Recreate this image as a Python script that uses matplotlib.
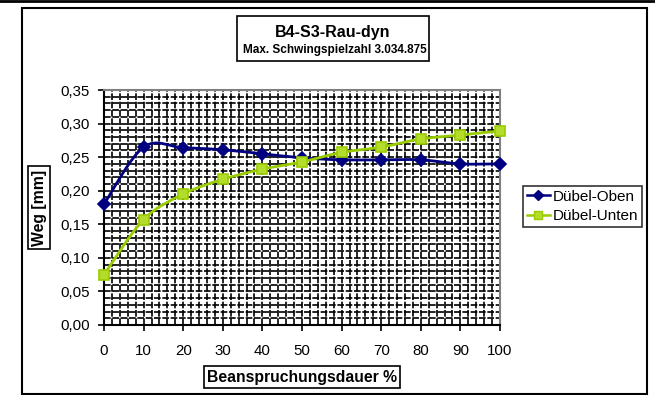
import numpy as np
import matplotlib
matplotlib.use("Agg")
import matplotlib.pyplot as plt
from matplotlib.path import Path
from matplotlib.patches import PathPatch, Rectangle
from matplotlib.lines import Line2D

plt.rcParams['font.family'] = ['Liberation Sans', 'DejaVu Sans']

# data
dauer = [0, 10, 20, 30, 40, 50, 60, 70, 80, 90, 100]
oben = [0.180, 0.265, 0.264, 0.261, 0.255, 0.249, 0.246, 0.246, 0.246, 0.240, 0.240]
unten = [0.075, 0.157, 0.195, 0.217, 0.232, 0.243, 0.257, 0.265, 0.277, 0.283, 0.289]
series_names = ['Dübel-Oben', 'Dübel-Unten']
y_ticks = [0.00, 0.05, 0.10, 0.15, 0.20, 0.25, 0.30, 0.35]
x_ticks = [0, 10, 20, 30, 40, 50, 60, 70, 80, 90, 100]

blue = '#000080'
green = '#99CC00'


def smooth_path(x, y, t=1 / 6):
    # Excel-style smoothed line: cubic bezier segments through the points
    x = np.asarray(x, float)
    y = np.asarray(y, float)
    verts = [(x[0], y[0])]
    codes = [Path.MOVETO]
    n = len(x)
    for i in range(n - 1):
        p0 = (x[max(i - 1, 0)], y[max(i - 1, 0)])
        p1 = (x[i], y[i])
        p2 = (x[i + 1], y[i + 1])
        p3 = (x[min(i + 2, n - 1)], y[min(i + 2, n - 1)])
        c1 = (p1[0] + (p2[0] - p0[0]) * t, p1[1] + (p2[1] - p0[1]) * t)
        c2 = (p2[0] - (p3[0] - p1[0]) * t, p2[1] - (p3[1] - p1[1]) * t)
        verts += [c1, c2, p2]
        codes += [Path.CURVE4] * 3
    return Path(verts, codes)


fig = plt.figure(figsize=(6.55, 3.95), dpi=100)
ax = fig.add_axes([104 / 655, 1 - 325 / 395, 396 / 655, 235 / 395])

ax.set_xlim(0, 100)
ax.set_ylim(0, 0.35)

# dense grid
for v in np.arange(0, 100.01, 2):
    ax.axvline(v, color='black', lw=1.2, ls=(0, (4, 1)), zorder=1)
for v in np.arange(0, 0.3501, 0.01):
    ax.axhline(v, color='black', lw=1.2, ls=(0, (4, 1)), zorder=1)

for vals, col, mk, mfc in [(oben, blue, 'D', blue), (unten, green, 's', '#b4dc2a')]:
    ax.add_patch(PathPatch(smooth_path(dauer, vals), fill=False, edgecolor=col, lw=2, zorder=3))
    ax.plot(dauer, vals, ls='none', marker=mk, ms=6.5, color=col, mfc=mfc, mec=col, mew=1.2,
            zorder=4, clip_on=False)

ax.set_xticks(x_ticks)
ax.set_xticklabels([str(v) for v in x_ticks], fontsize=10.8)
ax.set_yticks(y_ticks)
ax.set_yticklabels([f'{v:.2f}'.replace('.', ',') for v in y_ticks], fontsize=10.8)
ax.tick_params(direction='out', length=4, width=1.2)
ax.tick_params(axis='x', pad=10)
ax.tick_params(axis='y', pad=6)
for s in ['left', 'bottom']:
    ax.spines[s].set_linewidth(1.5)
for s in ['top', 'right']:
    ax.spines[s].set_color('#808080')
    ax.spines[s].set_linewidth(1.5)

box = dict(boxstyle='square,pad=0.2', fc='white', ec='black', lw=1.2)
ax.set_xlabel('Beanspruchungsdauer %', fontsize=11.3, fontweight='bold', bbox=box, labelpad=8)
ax.set_ylabel('Weg [mm]', fontsize=11.3, fontweight='bold', bbox=box, labelpad=10)

# title box
fig.patches.append(Rectangle((237 / 655, 1 - 61 / 395), 192 / 655, 45 / 395, transform=fig.transFigure,
                             fc='white', ec='black', lw=1.2))
fig.text(333 / 655, 1 - 32 / 395, 'B4-S3-Rau-dyn', ha='center', va='center', fontsize=11.5,
         fontweight='bold')
fig.text(335 / 655, 1 - 50 / 395, 'Max. Schwingspielzahl 3.034.875', ha='center', va='center',
         fontsize=8.5, fontweight='bold')

# outer chart frame
fig.patches.append(Rectangle((22 / 655, 1 - 394 / 395), 625 / 655, 386 / 395, transform=fig.transFigure,
                             fill=False, ec='black', lw=1.5))
fig.add_artist(Line2D([0, 1], [1 - 1 / 395, 1 - 1 / 395], color='black', lw=2))

handles = [Line2D([], [], color=blue, marker='D', ms=5.5, lw=1.8),
           Line2D([], [], color=green, marker='s', ms=5.5, mfc='#b4dc2a', lw=1.8)]
leg = fig.legend(handles, series_names, loc='upper left', bbox_to_anchor=(523 / 655, 1 - 186 / 395),
                 fontsize=11, frameon=True, fancybox=False, edgecolor='black', borderpad=0.25,
                 handlelength=1.5, handletextpad=0.2, labelspacing=0.35, borderaxespad=0)
leg.get_frame().set_linewidth(1.2)

fig.savefig('out.png', dpi=100)
